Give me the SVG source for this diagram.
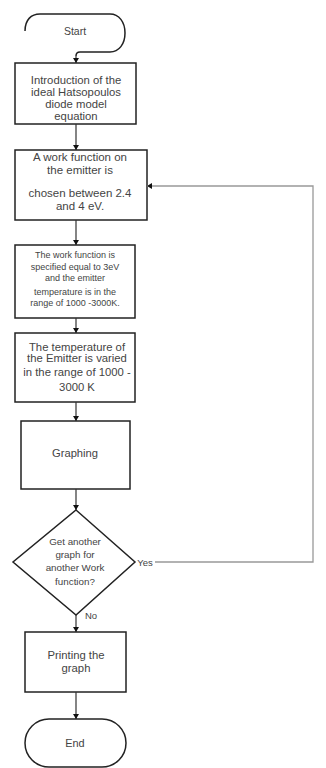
<svg xmlns="http://www.w3.org/2000/svg" width="326" height="768" viewBox="0 0 326 768">
<style>
.box{fill:#fff;stroke:#222;stroke-width:1.5}
.t{font-family:"Liberation Sans",Arial,sans-serif;fill:#444;text-anchor:middle}
.c{fill:none;stroke:#333;stroke-width:1.2}
.loop{fill:none;stroke:#999;stroke-width:1.3}
</style>
<defs>
<marker id="ah" markerWidth="6" markerHeight="6" refX="5" refY="3" orient="auto" markerUnits="userSpaceOnUse">
<path d="M0,0 L5,3 L0,6 Z" fill="#111"/>
</marker>
</defs>
<rect width="326" height="768" fill="#fff"/>
<g id="start">
<path class="box" fill="none" d="M25,31 C25,20 31,14 40,14 L110,14 C119,14 125,22 125,33 C125,44 119,52 110,52 L80,52 Q76,52 76,56"/>
<text class="t" x="75" y="35" font-size="10.5">Start</text>
</g>
<g id="intro">
<rect class="box" x="15" y="63" width="121" height="61"/>
<text class="t" font-size="11.3"><tspan x="76" y="83.5">Introduction of the</tspan><tspan x="76" y="95.5">ideal Hatsopoulos</tspan><tspan x="76" y="108">diode model</tspan><tspan x="76" y="120">equation</tspan></text>
</g>
<g id="workfn">
<rect class="box" x="15" y="150" width="132" height="70"/>
<text class="t" font-size="11.5"><tspan x="80" y="161">A work function on</tspan><tspan x="80" y="174">the emitter is</tspan><tspan x="80" y="197">chosen between 2.4</tspan><tspan x="80" y="210">and 4 eV.</tspan></text>
</g>
<g id="spec">
<rect class="box" x="15" y="245" width="120" height="73"/>
<text class="t" font-size="9"><tspan x="75" y="258">The work function is</tspan><tspan x="75" y="270">specified equal to 3eV</tspan><tspan x="75" y="281">and the emitter</tspan><tspan x="75" y="295">temperature is in the</tspan><tspan x="75" y="306">range of 1000 -3000K.</tspan></text>
</g>
<g id="temp">
<rect class="box" x="15" y="333" width="120" height="69"/>
<text class="t" font-size="11.3"><tspan x="77" y="351">The temperature of</tspan><tspan x="77" y="362">the Emitter is varied</tspan><tspan x="77" y="376">in the range of 1000 -</tspan><tspan x="77" y="391">3000 K</tspan></text>
</g>
<g id="graphing">
<rect class="box" x="21" y="421" width="109" height="68"/>
<text class="t" x="75" y="457" font-size="11.2">Graphing</text>
</g>
<g id="decision">
<path class="box" d="M76,510 L135,562 L76,615 L13,562 Z"/>
<text class="t" font-size="9.8"><tspan x="75" y="545">Get another</tspan><tspan x="75" y="558">graph for</tspan><tspan x="75" y="571">another Work</tspan><tspan x="75" y="585">function?</tspan></text>
</g>
<g id="printing">
<rect class="box" x="25" y="632" width="101" height="60"/>
<text class="t" font-size="11.3"><tspan x="76" y="659">Printing the</tspan><tspan x="76" y="672">graph</tspan></text>
</g>
<g id="end">
<rect class="box" x="25" y="719" width="101" height="48" rx="24" ry="24"/>
<text class="t" x="75" y="747" font-size="10.9">End</text>
</g>
<g id="connectors">
<path class="c" d="M76,56 L76,63" marker-end="url(#ah)"/>
<path class="c" d="M76,124 L76,150" marker-end="url(#ah)"/>
<path class="c" d="M76,220 L76,245" marker-end="url(#ah)"/>
<path class="c" d="M76,318 L76,333" marker-end="url(#ah)"/>
<path class="c" d="M76,402 L76,421" marker-end="url(#ah)"/>
<path class="c" d="M76,489 L76,510" marker-end="url(#ah)"/>
<path class="c" d="M76,615 L76,632" marker-end="url(#ah)"/>
<path class="c" d="M76,692 L76,719" marker-end="url(#ah)"/>
<path class="loop" d="M155,562 L313,562 L313,186 L147,186" marker-end="url(#ah)"/>
<text class="t" x="145" y="565.5" font-size="9.5">Yes</text>
<text class="t" x="91" y="618.5" font-size="9.5">No</text>
</g>
</svg>
